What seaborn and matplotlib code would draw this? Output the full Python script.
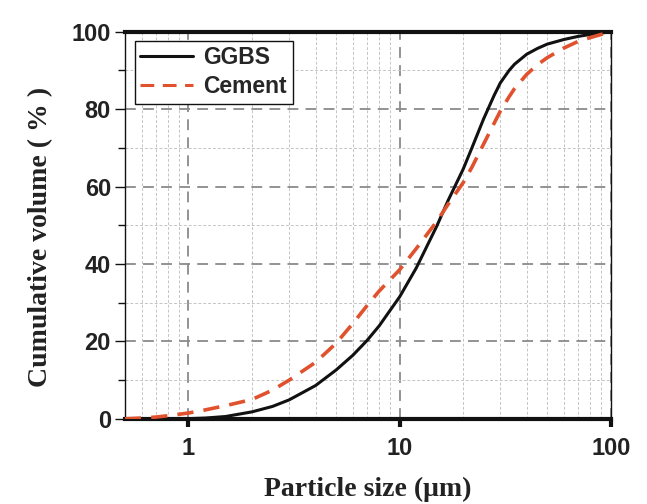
import numpy as np
import pandas as pd
import matplotlib
matplotlib.use("Agg")
import matplotlib.pyplot as plt
import seaborn as sns
from matplotlib.ticker import LogLocator, FixedLocator, NullFormatter

# particle size (um) and cumulative volume (%)
size = [0.5, 0.6, 0.7, 0.8, 1.0, 1.2, 1.5, 2.0, 2.5, 3.0, 4.0, 5.0, 6.0, 7.0,
        8.0, 10.0, 12.0, 15.0, 17.0, 20.0, 22.0, 25.0, 28.0, 30.0, 33.0, 35.0,
        40.0, 45.0, 50.0, 60.0, 70.0, 80.0, 100.0]
ggbs = [0.0, 0.0, 0.0, 0.0, 0.05, 0.2, 0.6, 1.8, 3.2, 4.9, 8.6, 12.6, 16.4, 20.2,
        24.0, 31.5, 39.0, 49.8, 56.5, 64.5, 70.0, 77.5, 83.5, 86.8, 90.0, 91.6,
        94.2, 95.7, 96.8, 98.0, 98.8, 99.3, 100.0]
cement = [0.0, 0.2, 0.45, 0.8, 1.5, 2.3, 3.4, 5.0, 7.4, 10.0, 14.6, 19.5, 24.6, 29.2,
          33.0, 38.5, 44.0, 51.0, 55.5, 61.0, 65.0, 71.0, 76.3, 79.5, 83.2, 85.3,
          89.0, 91.5, 93.3, 95.8, 97.5, 98.5, 100.0]

df = pd.DataFrame({
    "size": size * 2,
    "volume": ggbs + cement,
    "sample": ["GGBS"] * len(size) + ["Cement"] * len(size),
})

sns.set_theme(style="white")
plt.rcParams["font.family"] = ["Liberation Sans", "DejaVu Sans"]

fig = plt.figure(figsize=(6.47, 5.04), dpi=100)
ax = fig.add_axes([0.193, 0.169, 0.751, 0.768])

sns.lineplot(data=df, x="size", y="volume", hue="sample", style="sample",
             palette={"GGBS": "#111111", "Cement": "#e0522d"},
             dashes={"GGBS": "", "Cement": (4.5, 2.8)},
             linewidth=2.2, ax=ax, zorder=5)
lines = ax.get_lines()
lines[1].set_linewidth(2.6)

ax.set_xscale("log")
ax.set_xlim(0.5, 100)
ax.set_ylim(0, 100)

ax.yaxis.set_major_locator(FixedLocator([0, 20, 40, 60, 80, 100]))
ax.yaxis.set_minor_locator(FixedLocator([10, 30, 50, 70, 90]))
ax.xaxis.set_major_locator(FixedLocator([1, 10, 100]))
ax.xaxis.set_major_formatter(plt.FuncFormatter(lambda v, p: f"{v:g}"))
ax.xaxis.set_minor_locator(LogLocator(base=10, subs=np.arange(2, 10)))
ax.xaxis.set_minor_formatter(NullFormatter())

ax.grid(which="minor", color="#c4c4c4", linestyle=(0, (3, 2)), linewidth=0.7)
ax.grid(which="major", color="#8a8a8a", linestyle=(0, (6, 4)), linewidth=1.3)
ax.set_axisbelow(True)

for side in ["left", "right"]:
    ax.spines[side].set_linewidth(1.0)
    ax.spines[side].set_color("#111111")
for side in ["top", "bottom"]:
    ax.spines[side].set_linewidth(3.0)
    ax.spines[side].set_color("#111111")

ax.tick_params(axis="x", which="major", direction="out", length=6, width=3,
               color="#111111", labelsize=17, pad=7, bottom=True)
ax.tick_params(axis="x", which="minor", bottom=False)
ax.tick_params(axis="y", which="major", direction="out", length=7, width=1,
               color="#111111", labelsize=17, pad=3, left=True)
ax.tick_params(axis="y", which="minor", direction="out", length=5, width=1,
               color="#111111", left=True)
for lab in ax.get_xticklabels() + ax.get_yticklabels():
    lab.set_fontweight("bold")
    lab.set_color("#222222")

ax.set_xlabel("Particle size (μm)", fontsize=20, fontweight="bold",
              family=["Liberation Serif", "DejaVu Serif"], color="#222222", labelpad=12)
ax.set_ylabel("Cumulative volume ( % )", fontsize=20, fontweight="bold",
              family=["Liberation Serif", "DejaVu Serif"], color="#222222")
ax.yaxis.set_label_coords(-0.148, 0.47)

leg = ax.legend(loc="upper left", bbox_to_anchor=(0.02, 0.977), frameon=True,
                fancybox=False, edgecolor="#111111", framealpha=1,
                prop={"weight": "bold", "size": 16.5}, handlelength=2.3,
                handletextpad=0.45, borderpad=0.25, labelspacing=0.25,
                borderaxespad=0)
leg.get_frame().set_linewidth(1.0)
leg.set_zorder(10)

fig.savefig("out.png", dpi=100)
